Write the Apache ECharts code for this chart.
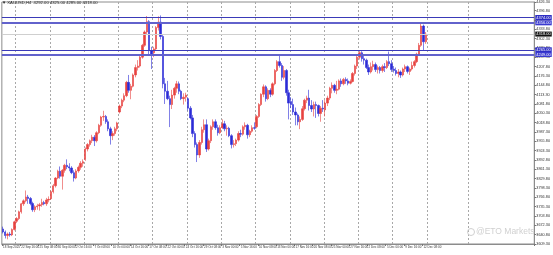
<!DOCTYPE html>
<html><head><meta charset="utf-8">
<script src="https://cdn.jsdelivr.net/npm/echarts@6/dist/echarts.min.js"></script>
<style>html,body{margin:0;padding:0;background:#fff}#c{width:553px;height:255px}</style>
</head><body><div id="c"></div>
<script>
// Trading days (H4 chart approximated with 8-hour bars: 00:00, 08:00, 16:00)
const days = ['18 Sep','19 Sep','22 Sep','23 Sep','24 Sep','25 Sep','26 Sep','29 Sep','30 Sep',
'1 Oct','2 Oct','3 Oct','6 Oct','7 Oct','8 Oct','9 Oct','10 Oct','13 Oct','14 Oct','15 Oct','16 Oct','17 Oct',
'20 Oct','21 Oct','22 Oct','23 Oct','24 Oct','27 Oct','28 Oct','29 Oct','30 Oct','31 Oct',
'3 Nov','4 Nov','5 Nov','6 Nov','7 Nov','10 Nov','11 Nov','12 Nov','13 Nov','14 Nov','17 Nov','18 Nov',
'19 Nov','20 Nov','21 Nov','24 Nov','25 Nov','26 Nov','27 Nov','28 Nov',
'1 Dec','2 Dec','3 Dec','4 Dec','5 Dec','8 Dec','9 Dec','10 Dec','11 Dec','12 Dec'];
const hours = ['00:00','08:00','16:00'];
const weekStarts = ['22 Sep','29 Sep','6 Oct','13 Oct','20 Oct','27 Oct','3 Nov','10 Nov','17 Nov','24 Nov','1 Dec','8 Dec'];
const firstLabel = '18 Sep 2025';
const symbolTitle = 'XAUUSD,H4';

const opens = [3660,3650,3638, 3643,3640,3658, 3686,3695,3718, 3745,3755,3768, 3763,3746,3725, 3735,3738,3742, 3749,3745,3758,
3762,3786,3806, 3832,3855,3838, 3858,3875,3870, 3866,3850,3832, 3856,3868,3882,
3895,3930,3945, 3958,3970,3958, 3985,4010,4038, 4040,4022,3998, 3975,3982,3998,
4055,4075,4095, 4110,4155,4128, 4142,4180,4205, 4210,4240,4280, 4325,4360,4262,
4255,4268,4340, 4358,4310,4150, 4125,4100,4080, 4112,4135,4150, 4125,4100,4105,
4100,4068,4035, 3982,3945,3910, 3952,3995,4012, 3930,3958,4005, 4022,4002,3985,
4002,4015,3998, 4000,3975,3945, 3948,3960,3982, 3980,4005,4010, 3978,3990,4002,
4005,4040,4080, 4115,4140,4100, 4128,4115,4150, 4195,4225,4212, 4172,4195,4120,
4090,4080,4055, 4045,4022,4030, 4066,4095,4102, 4077,4065,4080, 4077,4050,4068,
4062,4085,4102, 4135,4145,4128, 4132,4160,4150, 4165,4160,4152, 4158,4185,4210,
4240,4255,4235, 4230,4205,4190, 4208,4215,4198, 4205,4195,4208, 4205,4225,4218,
4200,4195,4185, 4190,4180,4200, 4208,4192,4200, 4212,4225,4250, 4280,4345,4292];

const highs = [3668,3655,3648, 3650,3662,3688, 3700,3722,3748, 3760,3790,3775, 3768,3752,3740, 3745,3748,3762, 3755,3765,3770,
3790,3812,3835, 3860,3871,3862, 3880,3895,3882, 3872,3858,3862, 3874,3889,3895,
3935,3950,3962, 3978,3977,3990, 4015,4042,4059, 4045,4030,4005, 3990,4005,4022,
4080,4100,4118, 4160,4180,4150, 4185,4215,4230, 4245,4285,4330, 4379,4365,4275,
4275,4345,4378, 4381,4315,4170, 4160,4110,4130, 4140,4160,4158, 4130,4118,4120,
4105,4075,4045, 3990,3952,3960, 4005,4030,4030, 3965,4010,4030, 4030,4012,4010,
4030,4025,4010, 4005,3980,3960, 3965,3990,3995, 4010,4020,4015, 3995,4010,4020,
4045,4085,4118, 4148,4145,4135, 4135,4155,4200, 4230,4245,4220, 4210,4200,4130,
4105,4100,4070, 4050,4040,4075, 4100,4110,4130, 4095,4090,4090, 4080,4075,4095,
4095,4110,4140, 4155,4150,4160, 4165,4168,4170, 4172,4168,4165, 4190,4215,4245,
4264,4260,4245, 4235,4215,4222, 4228,4222,4212, 4210,4215,4220, 4230,4259,4230,
4210,4205,4200, 4195,4205,4215, 4212,4205,4225, 4230,4255,4288, 4353,4350,4325];

const lows = [3645,3628,3625, 3634,3636,3655, 3680,3690,3712, 3738,3750,3745, 3740,3718,3717, 3725,3722,3735, 3740,3738,3750,
3758,3780,3800, 3828,3830,3793, 3850,3862,3855, 3845,3820,3828, 3850,3860,3870,
3890,3922,3938, 3950,3940,3952, 3980,4005,4025, 4015,3990,3945, 3960,3975,3990,
4050,4068,4088, 4105,4120,4098, 4138,4172,4195, 4205,4235,4275, 4318,4250,4200,
4240,4262,4330, 4300,4135,4082, 4095,4004,4065, 4100,4120,4115, 4095,4080,4090,
4060,4030,3970, 3935,3886,3900, 3945,3985,3920, 3925,3950,3995, 3995,3975,3980,
3998,3990,3975, 3970,3932,3935, 3940,3955,3970, 3975,3995,3965, 3970,3985,3995,
4000,4035,4075, 4105,4090,4095, 4105,4110,4145, 4190,4205,4160, 4165,4110,4030,
4068,4045,4010, 4010,3997,4025, 4060,4085,4060, 4055,4040,4035, 4040,4022,4055,
4040,4075,4095, 4118,4120,4115, 4128,4140,4145, 4150,4145,4148, 4155,4178,4200,
4232,4225,4215, 4200,4180,4185, 4195,4190,4185, 4185,4188,4190, 4200,4210,4190,
4188,4178,4172, 4170,4175,4190, 4185,4180,4195, 4205,4220,4245, 4275,4262,4285];

const closes = [3650,3638,3643, 3640,3658,3684, 3695,3718,3745, 3755,3768,3763, 3746,3725,3735, 3738,3742,3749, 3745,3758,3760,
3786,3806,3832, 3855,3838,3858, 3875,3870,3866, 3850,3832,3856, 3868,3882,3887,
3930,3945,3958, 3970,3958,3985, 4010,4038,4040, 4022,3998,3975, 3982,3998,4018,
4075,4095,4110, 4155,4128,4142, 4180,4205,4210, 4240,4280,4325, 4360,4262,4250,
4268,4340,4358, 4310,4150,4125, 4100,4080,4112, 4135,4150,4125, 4100,4105,4112,
4068,4035,3982, 3945,3910,3952, 3995,4012,3930, 3958,4005,4022, 4002,3985,4002,
4015,3998,4000, 3975,3945,3948, 3960,3982,3980, 4005,4010,3978, 3990,4002,4000,
4040,4080,4115, 4140,4100,4128, 4115,4150,4195, 4225,4212,4172, 4195,4120,4085,
4080,4055,4045, 4022,4030,4066, 4095,4102,4077, 4065,4080,4077, 4050,4068,4065,
4085,4102,4135, 4145,4128,4132, 4160,4150,4165, 4160,4152,4158, 4185,4210,4240,
4255,4235,4230, 4205,4190,4208, 4215,4198,4205, 4195,4208,4205, 4225,4218,4198,
4195,4185,4190, 4180,4200,4208, 4192,4200,4212, 4225,4250,4280, 4345,4292,4318];

const levelsUpper = [4374, 4356];
const levelsLower = [4265, 4249];
const lastPrice = 4318;
const yMin = 3609.3, yMax = 4426.3, yStep = 31.5;

// ---- build ----
const cats = [];
days.forEach(d => hours.forEach(h => cats.push(d + ' ' + h)));
const nData = cats.length;
const totalSlots = 233;           // chart shift / empty future area
const futureGrid = [nData, nData + 18];
while (cats.length < totalSlots) cats.push('');
const candle = opens.map((o, i) => [o, closes[i], lows[i], highs[i]]);

const UP = '#e8423f', DOWN = '#2b2bd6';
const lvlLabel = (bg) => ({show:true, position:'end', distance:1, fontSize:4, color:'#fff',
  backgroundColor:bg, padding:[1,1,0,1], fontFamily:'Liberation Sans',
  formatter: p => Number(p.value).toFixed(2)});

const last = nData - 1;
const header = '\u25BC ' + symbolTitle + '  ' + opens[last].toFixed(2) + ' ' + highs[last].toFixed(2) + ' ' +
  lows[last].toFixed(2) + ' ' + closes[last].toFixed(2);

const showLab = (i) => i % 8 === 0 && i < nData;

const chart = echarts.init(document.getElementById('c'), null, {renderer:'canvas'});
chart.setOption({
  animation:false,
  backgroundColor:'#fff',
  grid:{left:0, right:15, top:0, bottom:11, show:true, borderColor:'#8c8c8c', borderWidth:1},
  xAxis:{
    type:'category', data:cats, boundaryGap:true,
    axisLine:{show:true, lineStyle:{color:'#8c8c8c'}},
    axisTick:{show:true, interval:showLab, length:2, lineStyle:{color:'#777'}},
    axisLabel:{interval:showLab, showMinLabel:true, fontSize:3, color:'#333', align:'left', margin:2, hideOverlap:false,
      fontFamily:'Liberation Sans', formatter:(v, i)=> i === 0 ? firstLabel : v},
    splitLine:{show:true, interval:(i, v)=> {
        if (i >= nData) return futureGrid.indexOf(i) >= 0;
        return v.endsWith('00:00') && weekStarts.indexOf(v.replace(' 00:00','')) >= 0;
      }, lineStyle:{color:'#a8a8a8', type:[2,2], width:1}}
  },
  yAxis:{
    type:'value', position:'right', min:yMin, max:yMax, interval:yStep,
    axisLine:{show:true, lineStyle:{color:'#8c8c8c'}},
    axisTick:{show:true, length:2, lineStyle:{color:'#777'}},
    axisLabel:{fontSize:3.8, color:'#333', margin:2, fontFamily:'Liberation Sans', formatter:v => v.toFixed(2)},
    splitLine:{show:false}
  },
  series:[{
    type:'candlestick', data:candle, barWidth:1.9,
    itemStyle:{color:UP, color0:DOWN, borderColor:UP, borderColor0:DOWN, borderWidth:0.6},
    markLine:{
      symbol:['none','none'], silent:true, animation:false,
      data:[
        {yAxis:lastPrice, lineStyle:{color:'#cfcfcf', width:1, type:'solid'}, label:lvlLabel('#111')},
        {yAxis:levelsUpper[0], lineStyle:{color:'#3a3ab8', width:1, type:'solid'}, label:lvlLabel('#2e2ec4')},
        {yAxis:levelsUpper[1], lineStyle:{color:'#6262cc', width:2, type:'solid'}, label:lvlLabel('#3a3ad0')},
        {yAxis:levelsLower[0], lineStyle:{color:'#3a3ab8', width:1, type:'solid'}, label:lvlLabel('#2e2ec4')},
        {yAxis:levelsLower[1], lineStyle:{color:'#6262cc', width:2, type:'solid'}, label:lvlLabel('#3a3ad0')}
      ]
    }
  }],
  graphic:[
    {type:'text', left:2, top:1, z:10, style:{text:header, fontSize:4.2, fill:'#222', fontFamily:'Liberation Sans'}},
    {type:'circle', shape:{cx:471, cy:232, r:3.5}, z:10, style:{fill:'none', stroke:'#d0d0d0', lineWidth:1}},
    {type:'text', left:476, top:227.5, z:10, style:{text:'@ETO Markets', fontSize:8.5, fill:'#d0d0d0', fontFamily:'Liberation Sans'}}
  ]
});
</script>
</body></html>
